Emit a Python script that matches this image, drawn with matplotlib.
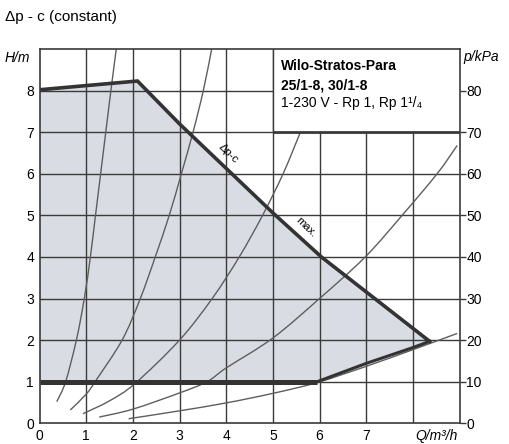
import matplotlib
matplotlib.use("Agg")
import matplotlib.pyplot as plt
from matplotlib.patches import Rectangle, Polygon, PathPatch
from matplotlib.path import Path

plt.rcParams['font.family'] = ['Liberation Sans', 'DejaVu Sans']

# ---- data ----
x_ticks = [0, 1, 2, 3, 4, 5, 6, 7, 8]
x_ticklabels = ['0', '1', '2', '3', '4', '5', '6', '7', '']
y_ticks = [0, 1, 2, 3, 4, 5, 6, 7, 8]
kpa_ticks = [0, 10, 20, 30, 40, 50, 60, 70, 80]

# Δp-c (max) curve
max_q = [0.0, 2.1, 3.0, 5.0, 6.04, 8.36]
max_h = [8.02, 8.23, 7.2, 5.06, 4.0, 1.97]
# lower boundary of the operating field
low_q = [8.36, 8.0, 7.0, 5.95]
low_h = [1.97, 1.82, 1.44, 1.0]
min_q = [5.95, 0.0]
min_h = [1.0, 1.0]

# system curves (thin)
c1_q = [0.37, 0.56, 0.79, 0.96, 1.09, 1.20, 1.31, 1.42, 1.53, 1.645]
c1_h = [0.52, 1.0, 2.0, 3.0, 4.0, 5.0, 6.0, 7.0, 8.0, 9.0]
c2_q = [0.66, 1.0, 1.19, 1.77, 2.16, 2.48, 2.78, 3.04, 3.29, 3.51, 3.69]
c2_h = [0.32, 0.70, 1.0, 2.0, 3.0, 4.0, 5.0, 6.0, 7.0, 8.0, 9.0]
c3_q = [0.93, 1.5, 2.05, 3.0, 3.70, 4.28, 4.78, 5.22, 5.59]
c3_h = [0.23, 0.54, 0.96, 2.0, 3.0, 4.0, 5.0, 6.0, 7.0]
c4_q = [1.28, 2.0, 3.0, 3.59, 4.0, 5.0, 6.0, 6.98, 7.77, 8.52, 8.95]
c4_h = [0.15, 0.34, 0.73, 1.0, 1.33, 2.05, 3.0, 4.0, 5.0, 6.0, 6.68]
c5_q = [1.91, 3.0, 4.0, 5.0, 5.95, 7.0, 8.0, 8.95]
c5_h = [0.11, 0.30, 0.49, 0.72, 0.98, 1.37, 1.77, 2.16]

title = "Δp - c (constant)"
box_lines = ["Wilo-Stratos-Para", "25/1-8, 30/1-8", "1-230 V - Rp 1, Rp 1¹/₄"]


def smooth_path(qs, hs):
    """Catmull-Rom curve through the given points, as cubic Bezier segments."""
    pts = list(zip(qs, hs))
    verts = [pts[0]]
    codes = [Path.MOVETO]
    n = len(pts)
    for i in range(n - 1):
        p0 = pts[i - 1] if i > 0 else pts[i]
        p1 = pts[i]
        p2 = pts[i + 1]
        p3 = pts[i + 2] if i + 2 < n else pts[i + 1]
        c1 = (p1[0] + (p2[0] - p0[0]) / 6, p1[1] + (p2[1] - p0[1]) / 6)
        c2 = (p2[0] - (p3[0] - p1[0]) / 6, p2[1] - (p3[1] - p1[1]) / 6)
        verts += [c1, c2, p2]
        codes += [Path.CURVE4] * 3
    return Path(verts, codes)


# ---- figure ----
W, H = 509, 444
fig = plt.figure(figsize=(W / 100, H / 100), dpi=100)
ax = fig.add_axes([39.5 / W, 1 - 423.3 / H, 420 / W, 374.3 / H])
ax.set_xlim(0, 9)
ax.set_ylim(0, 9)

grid_c = '#3a3a3a'
thick_c = '#333333'
thin_c = '#5e5e5e'

# shaded operating field
poly_q = max_q + low_q[1:] + min_q[1:]
poly_h = max_h + low_h[1:] + min_h[1:]
ax.add_patch(Polygon(list(zip(poly_q, poly_h)), closed=True,
                     facecolor='#d9dce3', edgecolor='none', zorder=1))

# grid
for xv in range(1, 9):
    ax.axvline(xv, color=grid_c, lw=1.0, zorder=2)
for yv in range(1, 9):
    ax.axhline(yv, color=grid_c, lw=1.0, zorder=2)

# thin system curves
for q, h in [(c1_q, c1_h), (c2_q, c2_h), (c3_q, c3_h), (c4_q, c4_h), (c5_q, c5_h)]:
    ax.add_patch(PathPatch(smooth_path(q, h), facecolor='none', edgecolor=thin_c,
                           lw=1.0, zorder=3, capstyle='butt'))

# thick lines
ax.plot(max_q, max_h, color=thick_c, lw=2.6, zorder=4, solid_joinstyle='miter')
ax.plot(low_q, low_h, color=thick_c, lw=2.2, zorder=4)
ax.plot(min_q, min_h, color=thick_c, lw=3.6, zorder=4, solid_capstyle='butt')

# labels along the curve
ax.text(4.05, 6.48, "Δp-c", rotation=-44, fontsize=8, ha='center', va='center', zorder=4)
ax.text(5.72, 4.72, "max.", rotation=-44, fontsize=8, ha='center', va='center', zorder=4)

# info box
ax.add_patch(Rectangle((5, 7), 4, 2, facecolor='white', edgecolor='none', zorder=5))
ax.plot([5, 5], [7, 9], color=grid_c, lw=1.0, zorder=6)
ax.plot([5, 9], [7, 7], color=grid_c, lw=2.0, zorder=6, solid_capstyle='butt')
ax.text(281 / W, 1 - 66 / H, box_lines[0], transform=fig.transFigure, fontsize=10,
        fontweight='bold', va='center', ha='left', zorder=7)
ax.text(281 / W, 1 - 85 / H, box_lines[1], transform=fig.transFigure, fontsize=10,
        fontweight='bold', va='center', ha='left', zorder=7)
ax.text(281 / W, 1 - 103 / H, box_lines[2], transform=fig.transFigure, fontsize=10,
        va='center', ha='left', zorder=7)

# axes styling
for s in ax.spines.values():
    s.set_color(grid_c)
    s.set_linewidth(1.2)
    s.set_zorder(8)
ax.set_xticks(x_ticks)
ax.set_xticklabels(x_ticklabels, fontsize=10)
ax.set_yticks(y_ticks)
ax.set_yticklabels([str(v) for v in y_ticks], fontsize=10)
ax.tick_params(axis='both', length=0, pad=4)

sec = ax.secondary_yaxis('right', functions=(lambda h: h * 10, lambda p: p / 10))
sec.set_yticks(kpa_ticks)
sec.set_yticklabels([str(v) for v in kpa_ticks], fontsize=10)
sec.tick_params(axis='y', length=4, width=1.0, color=grid_c, pad=1, direction='out')
sec.spines['right'].set_visible(False)

fig.text(5 / W, 1 - 17 / H, title, fontsize=11, va='center', ha='left')
fig.text(5 / W, 1 - 58 / H, "H/m", fontsize=10, style='italic', va='center', ha='left')
fig.text(463 / W, 1 - 57 / H, "p/kPa", fontsize=10, style='italic', va='center', ha='left')
fig.text(458 / W, 1 - 436 / H, "Q/m³/h", fontsize=10, style='italic', va='center', ha='right')

fig.savefig("out.png", dpi=100)
